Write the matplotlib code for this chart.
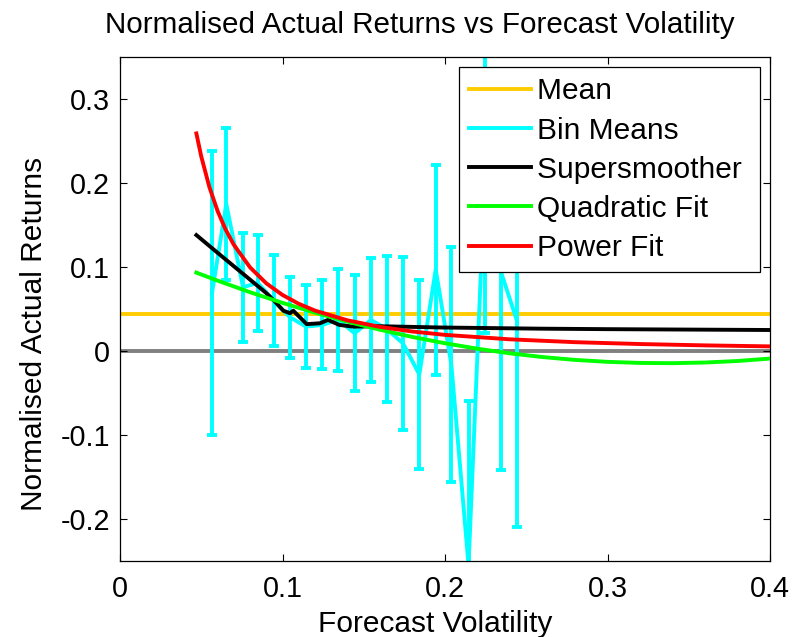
import matplotlib
matplotlib.use("Agg")
import matplotlib.pyplot as plt
from matplotlib.lines import Line2D

plt.rcParams['font.family'] = ['Liberation Sans', 'DejaVu Sans']
plt.rcParams['axes.unicode_minus'] = False

# ---- data ----
bin_x = [0.0566, 0.0654, 0.0757, 0.0849, 0.0945, 0.1047, 0.1145, 0.1243, 0.1344, 0.1444,
         0.1544, 0.1642, 0.1742, 0.1842, 0.1943, 0.2039, 0.2145, 0.2244, 0.2343, 0.2441]
bin_mean = [0.069, 0.175, 0.076, 0.081, 0.060, 0.040, 0.029, 0.031, 0.037, 0.021,
            0.037, 0.026, 0.009, -0.028, 0.097, -0.016, -0.255, 0.200, 0.095, 0.037]
bin_err = [0.169, 0.090, 0.065, 0.057, 0.054, 0.048, 0.049, 0.053, 0.061, 0.069,
           0.074, 0.087, 0.103, 0.112, 0.125, 0.140, 0.196, 0.179, 0.237, 0.247]

mean_value = 0.0444

smooth_x = [0.047, 0.060, 0.070, 0.080, 0.090, 0.0943, 0.1005, 0.1046, 0.1066, 0.1149,
            0.123, 0.128, 0.135, 0.1435, 0.160, 0.197, 0.258, 0.300, 0.350, 0.400]
smooth_y = [0.138, 0.117, 0.101, 0.085, 0.069, 0.061, 0.048, 0.045, 0.048, 0.032,
            0.033, 0.037, 0.031, 0.029, 0.0295, 0.028, 0.0266, 0.026, 0.0255, 0.025]

quad_x = [0.047, 0.06, 0.08, 0.10, 0.12, 0.14, 0.16, 0.18, 0.20, 0.22,
          0.24, 0.26, 0.28, 0.30, 0.32, 0.34, 0.36, 0.38, 0.40]
quad_y = [0.0933, 0.0838, 0.0700, 0.0573, 0.0456, 0.0349, 0.0253, 0.0167, 0.0092, 0.0027,
          -0.0028, -0.0072, -0.0106, -0.0129, -0.0142, -0.0145, -0.0137, -0.0119, -0.0090]

power_x = [0.047, 0.050, 0.055, 0.060, 0.065, 0.070, 0.080, 0.090, 0.10, 0.11,
           0.12, 0.14, 0.16, 0.18, 0.20, 0.24, 0.28, 0.32, 0.36, 0.40]
power_y = [0.259, 0.2316, 0.1952, 0.1669, 0.1446, 0.1266, 0.0996, 0.0806, 0.0667, 0.0562,
           0.0481, 0.0365, 0.0287, 0.0232, 0.0192, 0.0139, 0.0105, 0.0083, 0.0067, 0.0055]

x_ticks = [0, 0.1, 0.2, 0.3, 0.4]
x_tick_labels = ['0', '0.1', '0.2', '0.3', '0.4']
y_ticks = [-0.2, -0.1, 0, 0.1, 0.2, 0.3]
y_tick_labels = ['-0.2', '-0.1', '0', '0.1', '0.2', '0.3']

legend_labels = ['Mean', 'Bin Means', 'Supersmoother', 'Quadratic Fit', 'Power Fit']

# ---- styling ----
C_MEAN = '#FFCC00'
C_BIN = '#00FFFF'
C_SMOOTH = '#000000'
C_QUAD = '#00FF00'
C_POW = '#FF0000'
C_ZERO = '#808080'
LW = 2.8

fig = plt.figure(figsize=(7.92, 6.37), dpi=100)
ax = fig.add_axes([120 / 792, 1 - 561 / 637, 650 / 792, 504 / 637])

ax.axhline(mean_value, color=C_MEAN, lw=LW, zorder=1)
ax.axhline(0, color=C_ZERO, lw=LW, zorder=1.5)
ax.errorbar(bin_x, bin_mean, yerr=bin_err, color=C_BIN, ecolor=C_BIN, lw=LW,
            elinewidth=LW, capsize=3.6, capthick=LW, zorder=2)
ax.plot(smooth_x, smooth_y, color=C_SMOOTH, lw=LW, zorder=3)
ax.plot(quad_x, quad_y, color=C_QUAD, lw=LW, zorder=4)
ax.plot(power_x, power_y, color=C_POW, lw=LW, zorder=5)

ax.set_xlim(0, 0.4)
ax.set_ylim(-0.25, 0.35)
ax.set_xticks(x_ticks)
ax.set_xticklabels(x_tick_labels)
ax.set_yticks(y_ticks)
ax.set_yticklabels(y_tick_labels)
ax.tick_params(direction='in', length=5, width=0.8, top=True, right=True,
               labelsize=20.7, colors='black')
ax.tick_params(axis='x', pad=10)
ax.tick_params(axis='y', pad=7)
for s in ax.spines.values():
    s.set_linewidth(0.9)
    s.set_color('black')

ax.set_title('Normalised Actual Returns vs Forecast Volatility', fontsize=21.3, pad=17,
             x=0.4615)
ax.set_xlabel('Forecast Volatility', fontsize=21.5, labelpad=5, x=0.4846)
ax.set_ylabel('Normalised Actual Returns', fontsize=21.5, labelpad=9, y=0.45)

colors = [C_MEAN, C_BIN, C_SMOOTH, C_QUAD, C_POW]
handles = [Line2D([0], [0], color=c, lw=LW) for c in colors]
labels_padded = [lab + ' ' for lab in legend_labels]
leg = ax.legend(handles, labels_padded, loc='upper right', fontsize=21.5,
                frameon=True, fancybox=False, framealpha=1, edgecolor='black',
                borderaxespad=0.35, handlelength=2.07, handletextpad=0.2,
                labelspacing=0.375, borderpad=0.33)
leg.get_frame().set_linewidth(0.9)
leg.set_zorder(10)

fig.savefig('out.png', dpi=100)
